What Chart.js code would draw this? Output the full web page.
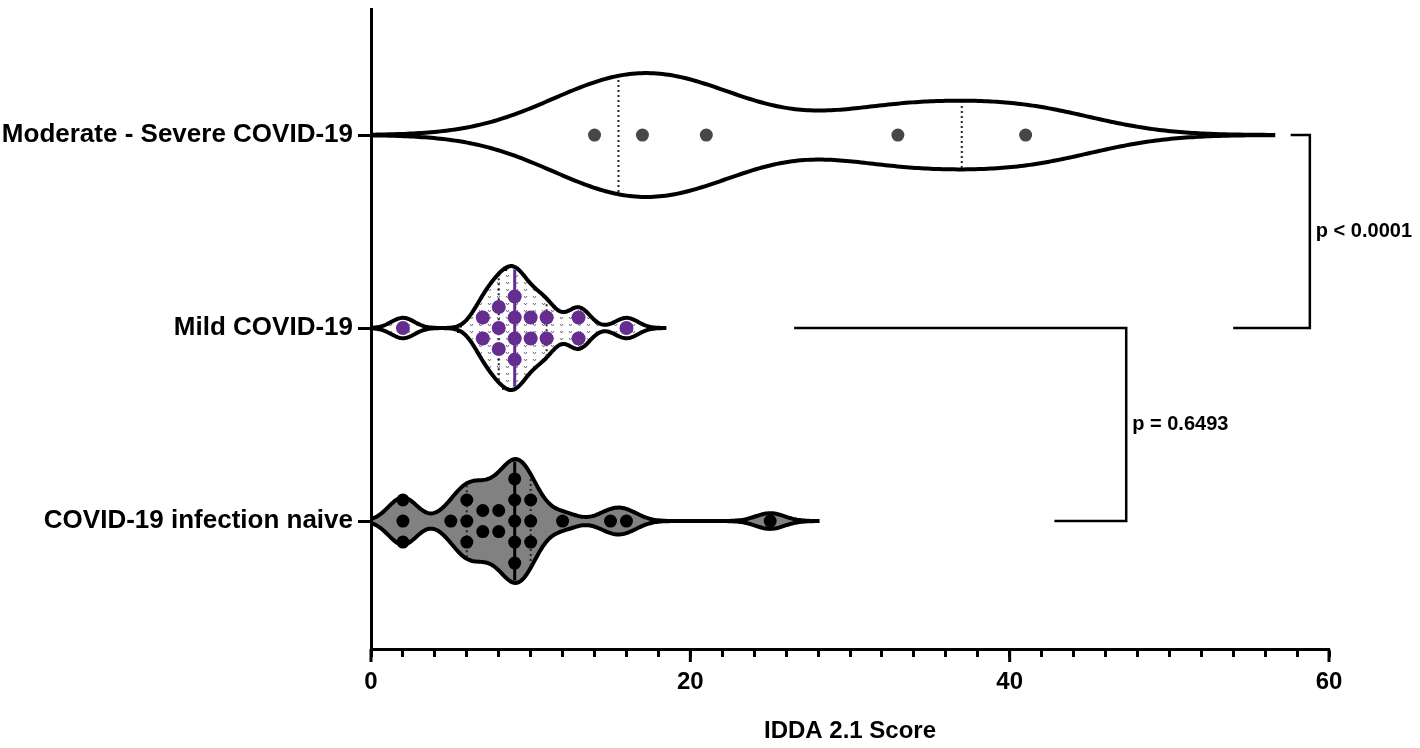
<!DOCTYPE html>
<html>
<head>
<meta charset="utf-8">
<script src="https://cdn.jsdelivr.net/npm/chart.js@4.4.1/dist/chart.umd.min.js"></script>
<style>
html, body { margin: 0; padding: 0; background: #fff; }
#wrap { width: 1420px; height: 748px; }
</style>
</head>
<body>
<div id="wrap"><canvas id="violin-chart"></canvas></div>
<script>
// Groups, top to bottom
const groupNames = ['Moderate - Severe COVID-19', 'Mild COVID-19', 'COVID-19 infection naive'];
const groupRows = [3, 2, 1];

// IDDA 2.1 scores (one per dot)
const severeScores = [14, 17, 21, 33, 41];
const mildScores = [2, 7, 7, 8, 8, 8, 9, 9, 9, 9, 10, 10, 11, 11, 13, 13, 16];
const naiveScores = [2, 2, 2, 5, 6, 6, 6, 7, 7, 8, 8, 9, 9, 9, 9, 9, 10, 10, 10, 12, 15, 16, 25];

// median / quartile lines drawn inside the violins
const severeQuartiles = [15.5, 37];
const mildMedian = [9];
const mildQuartiles = [8, 11];
const naiveMedian = [9];
const naiveQuartiles = [6, 10];

// x axis
const xMajorTicks = [0, 20, 40, 60];

// comparison labels
const pLabels = ['p < 0.0001', 'p = 0.6493'];

const FONT = "'Liberation Sans', Arial, Helvetica, sans-serif";
const HALF = 0.321;      // max half width of a violin (y units)
const DOT_GAP = 0.109;   // vertical gap between stacked dots

// gaussian kernel density
function density(values, h, x) {
    let s = 0;
    values.forEach(v => {
        const d = (x - v) / h;
        s += Math.exp(-0.5 * d * d);
    });
    return s;
}

function makeViolin(values, h, row) {
    const lo = Math.max(0, Math.min(...values) - 3.3 * h);
    const hi = Math.max(...values) + 3.3 * h;
    const n = 300;
    const xs = [];
    for (let i = 0; i <= n; i++) xs.push(lo + (hi - lo) * i / n);
    const dens = xs.map(x => density(values, h, x));
    const peak = Math.max(...dens);
    const top = xs.map((x, i) => ({ x: x, y: row + HALF * dens[i] / peak }));
    const bottom = xs.map((x, i) => ({ x: x, y: row - HALF * dens[i] / peak })).reverse();
    return {
        outline: top.concat(bottom, [top[0]]),
        halfAt: x => HALF * density(values, h, x) / peak
    };
}

function swarm(values, row) {
    const counts = {};
    values.forEach(v => { counts[v] = (counts[v] || 0) + 1; });
    const pts = [];
    Object.keys(counts).forEach(k => {
        const c = counts[k];
        for (let j = 0; j < c; j++) pts.push({ x: +k, y: row + (j - (c - 1) / 2) * DOT_GAP });
    });
    return pts;
}

function vLines(xs, violin, row, style) {
    return xs.map(x => {
        const hw = violin.halfAt(x) * 0.96;
        return Object.assign({
            type: 'line',
            data: [{ x: x, y: row - hw }, { x: x, y: row + hw }],
            pointRadius: 0,
            fill: false,
            order: 2
        }, style);
    });
}

const canvas = document.getElementById('violin-chart');
const ctx = canvas.getContext('2d');

// light hatch used inside the mild violin
function hatch() {
    const c = document.createElement('canvas');
    c.width = 9; c.height = 7;
    const g = c.getContext('2d');
    g.fillStyle = '#fff';
    g.fillRect(0, 0, 9, 7);
    g.strokeStyle = '#6e6e6e';
    g.lineWidth = 1;
    g.beginPath();
    g.moveTo(2, 2); g.lineTo(3.5, 4); g.lineTo(5, 2);
    g.stroke();
    return ctx.createPattern(c, 'repeat');
}

const severeViolin = makeViolin(severeScores, 4.7, groupRows[0]);
const mildViolin = makeViolin(mildScores, 0.72, groupRows[1]);
const naiveViolin = makeViolin(naiveScores, 0.9, groupRows[2]);

function violinSet(v, fillColor) {
    return {
        type: 'line',
        data: v.outline,
        borderColor: '#000',
        borderWidth: 4,
        backgroundColor: fillColor,
        fill: 'shape',
        pointRadius: 0,
        tension: 0,
        order: 3
    };
}

function dotSet(values, row, color, r) {
    return {
        type: 'line',
        data: swarm(values, row),
        showLine: false,
        pointRadius: r,
        pointBackgroundColor: color,
        pointBorderWidth: 0,
        order: 1
    };
}

const dotted = { borderColor: '#222', borderWidth: 2, borderDash: [2, 3] };

// significance brackets (x in score units)
const bracketGeom = [
    { rows: [3, 2], xStart: [57.6, 54.0], xBar: 58.8 },
    { rows: [2, 1], xStart: [26.5, 42.8], xBar: 47.3 }
];
const bracketSets = bracketGeom.map(b => ({
    type: 'line',
    data: [
        { x: b.xStart[0], y: b.rows[0] },
        { x: b.xBar, y: b.rows[0] },
        { x: b.xBar, y: b.rows[1] },
        { x: b.xStart[1], y: b.rows[1] }
    ],
    borderColor: '#000',
    borderWidth: 2.5,
    pointRadius: 0,
    fill: false,
    order: 0
}));

const pLabelPlugin = {
    id: 'pLabels',
    afterDatasetsDraw(chart) {
        const xs = chart.scales.x, ys = chart.scales.y;
        const c = chart.ctx;
        c.save();
        c.fillStyle = '#000';
        c.font = 'bold 20px ' + FONT;
        c.textAlign = 'left';
        c.textBaseline = 'middle';
        bracketGeom.forEach((b, i) => {
            c.fillText(pLabels[i], xs.getPixelForValue(b.xBar) + 6,
                ys.getPixelForValue((b.rows[0] + b.rows[1]) / 2));
        });
        c.restore();
    }
};

// longer marks for the labelled ticks
const majorTickPlugin = {
    id: 'majorTicks',
    afterDraw(chart) {
        const xs = chart.scales.x;
        const c = chart.ctx;
        const y0 = chart.chartArea.bottom;
        c.save();
        c.strokeStyle = '#000';
        c.lineWidth = 3;
        xMajorTicks.forEach(v => {
            const x = xs.getPixelForValue(v);
            c.beginPath();
            c.moveTo(x, y0);
            c.lineTo(x, y0 + 13);
            c.stroke();
        });
        c.restore();
    }
};

const violinChart = new Chart(canvas, {
    type: 'line',
    data: {
        datasets: [
            violinSet(severeViolin, '#fff'),
            violinSet(mildViolin, hatch()),
            violinSet(naiveViolin, '#818181'),
            ...vLines(severeQuartiles, severeViolin, groupRows[0], dotted),
            ...vLines(mildQuartiles, mildViolin, groupRows[1], dotted),
            ...vLines(mildMedian, mildViolin, groupRows[1], { borderColor: '#642d8f', borderWidth: 3 }),
            ...vLines(naiveQuartiles, naiveViolin, groupRows[2], dotted),
            ...vLines(naiveMedian, naiveViolin, groupRows[2], { borderColor: '#000', borderWidth: 3 }),
            dotSet(severeScores, groupRows[0], '#474747', 6.5),
            dotSet(mildScores, groupRows[1], '#642d8f', 7),
            dotSet(naiveScores, groupRows[2], '#000', 6.5),
            ...bracketSets
        ]
    },
    options: {
        responsive: true,
        maintainAspectRatio: false,
        animation: false,
        layout: { padding: { top: 9, right: 91, left: 0, bottom: 0 } },
        plugins: {
            legend: { display: false },
            tooltip: { enabled: false }
        },
        scales: {
            x: {
                type: 'linear',
                min: 0,
                max: 60,
                afterFit: s => { s.height = 99; s.paddingLeft = 0; s.paddingRight = 0; },
                border: { display: true, color: '#000', width: 3 },
                grid: { drawOnChartArea: false, tickLength: 8, tickWidth: 3, tickColor: '#000' },
                ticks: {
                    stepSize: 2,
                    autoSkip: false,
                    maxRotation: 0,
                    padding: 11,
                    color: '#000',
                    font: { family: FONT, size: 24, weight: 'bold' },
                    callback: v => (v % 20 === 0 ? String(v) : '')
                },
                title: {
                    display: true,
                    text: 'IDDA 2.1 Score',
                    color: '#000',
                    font: { family: FONT, size: 24, weight: 'bold' },
                    padding: { top: 0, bottom: 2 }
                }
            },
            y: {
                type: 'linear',
                min: 0.337,
                max: 3.653,
                afterFit: s => { s.width = 371; s.paddingTop = 0; s.paddingBottom = 0; },
                afterBuildTicks: s => { s.ticks = groupRows.map(v => ({ value: v })); },
                border: { display: true, color: '#000', width: 3 },
                grid: { drawOnChartArea: false, tickLength: 13, tickWidth: 3, tickColor: '#000' },
                ticks: {
                    padding: 5,
                    color: '#000',
                    font: { family: FONT, size: 26, weight: 'bold' },
                    callback: v => groupNames[groupRows.indexOf(v)] || ''
                }
            }
        }
    },
    plugins: [pLabelPlugin, majorTickPlugin]
});
</script>
</body>
</html>
